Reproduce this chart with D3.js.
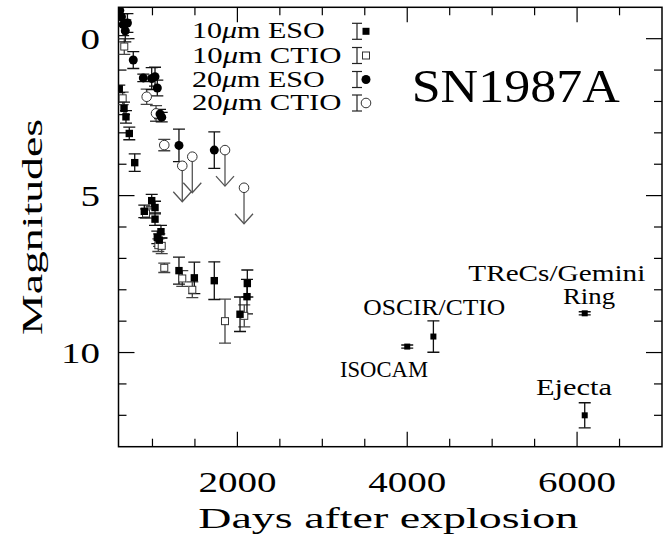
<!DOCTYPE html>
<html>
<head>
<meta charset="utf-8">
<script src="https://cdn.jsdelivr.net/npm/d3@7"></script>
<style>
  body { margin: 0; background: #fff; }
  svg text { font-family: "Liberation Serif", serif; fill: #000; }
</style>
</head>
<body>
<div id="chart"></div>
<script>
// 10 micron ESO (filled squares)
const eso10Days = [609, 665, 688, 727, 791, 904, 991, 1030, 1030, 1057, 1080, 1100, 1312, 1493, 1728, 2031, 2113, 2117];
const eso10Mags = [1.6, 2.22, 2.49, 3.02, 3.95, 5.5, 5.16, 5.38, 5.75, 6.33, 6.42, 6.15, 7.39, 7.62, 7.71, 8.78, 8.22, 7.8];
const eso10Errs = [0.12, 0.2, 0.2, 0.2, 0.28, 0.2, 0.2, 0.2, 0.2, 0.2, 0.2, 0.2, 0.43, 0.5, 0.6, 0.55, 0.55, 0.43];

// 10 micron CTIO (open squares)
const ctio10Days = [649, 668, 924, 1069, 1109, 1139, 1351, 1469, 1854, 2081];
const ctio10Mags = [1.9, 0.25, 5.57, 6.58, 6.6, 7.3, 7.64, 8.0, 9.0, 8.83];
const ctio10Errs = [0.2, 0.25, 0.15, 0.2, 0.25, 0.15, 0.25, 0.25, 0.7, 0.35];

// 20 micron ESO (filled circles)
const eso20Days = [615, 635, 655, 680, 705, 774, 892, 991, 1030, 1057, 1089, 1109, 1312, 1728];
const eso20Mags = [-0.9, -0.7, -0.45, -0.25, -0.5, 0.68, 1.25, 1.27, 1.21, 1.57, 2.4, 2.5, 3.4, 3.55];
const eso20Errs = [0.3, 0.3, 0.35, 0.35, 0.3, 0.27, 0.12, 0.35, 0.3, 0.25, 0.15, 0.15, 0.52, 0.58];

// 20 micron CTIO (open circles), detections and upper limits
const ctio20Days = [932, 1042, 1139];
const ctio20Mags = [1.85, 2.38, 3.39];
const ctio20Errs = [0.24, 0.25, 0.18];
const limitDays = [1351, 1469, 1854, 2078];
const limitMags = [4.05, 3.76, 3.55, 4.75];

// later observations
const lateNames = ["ISOCAM", "OSCIR/CTIO", "Ring", "Ejecta"];
const lateDays = [4000, 4308, 6090, 6090];
const lateMags = [9.81, 9.49, 8.75, 12.0];
const lateErrs = [0.05, 0.5, 0.05, 0.4];

const xTicks = [1000, 1500, 2000, 2500, 3000, 3500, 4000, 4500, 5000, 5500, 6000, 6500];
const xLabels = [2000, 4000, 6000];
const yTicks = [0, 1, 2, 3, 4, 5, 6, 7, 8, 9, 10, 11, 12];
const yLabels = [0, 5, 10];

const width = 671, height = 539;
const mLeft = 118.5, mRight = 662, mTop = 7.3, mBottom = 446.7;

const svg = d3.select("#chart").append("svg")
  .attr("width", width)
  .attr("height", height);

const x = d3.scaleLinear().domain([600, 7000]).range([mLeft, mRight]);
const y = d3.scaleLinear().domain([-1, 13]).range([mTop, mBottom]);

const toPts = (days, mags, errs) => days.map((d, i) => ({ d, m: mags[i], e: errs ? errs[i] : 0 }));

// frame
svg.append("rect")
  .attr("x", mLeft).attr("y", mTop)
  .attr("width", mRight - mLeft).attr("height", mBottom - mTop)
  .attr("fill", "none").attr("stroke", "#000").attr("stroke-width", 1.5);

// ticks, pointing inward on all four sides
const tickG = svg.append("g").attr("stroke", "#000").attr("stroke-width", 1.2);
xTicks.forEach(t => {
  const len = xLabels.includes(t) ? 15 : 8;
  tickG.append("line").attr("x1", x(t)).attr("x2", x(t)).attr("y1", mBottom).attr("y2", mBottom - len);
  tickG.append("line").attr("x1", x(t)).attr("x2", x(t)).attr("y1", mTop).attr("y2", mTop + len);
});
yTicks.forEach(t => {
  const len = yLabels.includes(t) ? 16 : 8;
  tickG.append("line").attr("y1", y(t)).attr("y2", y(t)).attr("x1", mLeft).attr("x2", mLeft + len);
  tickG.append("line").attr("y1", y(t)).attr("y2", y(t)).attr("x1", mRight).attr("x2", mRight - len);
});

// tick labels
svg.selectAll(".xl").data(xLabels).enter().append("text")
  .attr("x", d => x(d)).attr("y", 491.5)
  .attr("text-anchor", "middle")
  .attr("font-size", 30)
  .attr("textLength", 78).attr("lengthAdjust", "spacingAndGlyphs")
  .text(d => d);

svg.selectAll(".yl").data(yLabels).enter().append("text")
  .attr("x", 100).attr("y", d => y(d) + 10.5)
  .attr("text-anchor", "end")
  .attr("font-size", 30)
  .attr("textLength", d => String(d).length * 19.5).attr("lengthAdjust", "spacingAndGlyphs")
  .text(d => d);

// axis titles
svg.append("text")
  .attr("x", 198.3).attr("y", 528)
  .attr("font-size", 30)
  .attr("textLength", 380).attr("lengthAdjust", "spacingAndGlyphs")
  .text("Days after explosion");

svg.append("text")
  .attr("transform", "translate(42,335) rotate(-90)")
  .attr("font-size", 30)
  .attr("textLength", 216).attr("lengthAdjust", "spacingAndGlyphs")
  .text("Magnitudes");

// title
svg.append("text")
  .attr("x", 411.7).attr("y", 101.7)
  .attr("font-size", 46)
  .attr("textLength", 208).attr("lengthAdjust", "spacingAndGlyphs")
  .text("SN1987A");

// error bars
function errBars(g, pts, color) {
  pts.forEach(p => {
    if (!p.e) return;
    const y1 = y(p.m - p.e), y2 = y(p.m + p.e), cx = x(p.d);
    g.append("line").attr("x1", cx).attr("x2", cx).attr("y1", y1).attr("y2", y2);
    g.append("line").attr("x1", cx - 6).attr("x2", cx + 6).attr("y1", y1).attr("y2", y1);
    g.append("line").attr("x1", cx - 6).attr("x2", cx + 6).attr("y1", y2).attr("y2", y2);
  });
  g.attr("stroke", color).attr("stroke-width", 1.3);
}

svg.append("defs").append("clipPath").attr("id", "plot")
  .append("rect").attr("x", mLeft).attr("y", mTop).attr("width", mRight - mLeft).attr("height", mBottom - mTop);

const plot = svg.append("g").attr("clip-path", "url(#plot)");

const eso10 = toPts(eso10Days, eso10Mags, eso10Errs);
const ctio10 = toPts(ctio10Days, ctio10Mags, ctio10Errs);
const eso20 = toPts(eso20Days, eso20Mags, eso20Errs);
const ctio20 = toPts(ctio20Days, ctio20Mags, ctio20Errs);
const limits = toPts(limitDays, limitMags);
const late = toPts(lateDays, lateMags, lateErrs);

errBars(plot.append("g"), ctio10, "#444");
errBars(plot.append("g"), ctio20, "#444");
errBars(plot.append("g"), eso10, "#111");
errBars(plot.append("g"), eso20, "#111");
errBars(plot.append("g"), late, "#111");

// upper limit arrows
const arr = plot.append("g").attr("stroke", "#555").attr("stroke-width", 1.3).attr("fill", "none");
limits.forEach(p => {
  const cx = x(p.d), cy = y(p.m), end = cy + 36;
  arr.append("line").attr("x1", cx).attr("x2", cx).attr("y1", cy).attr("y2", end);
  arr.append("path").attr("d", `M${cx - 9},${end - 10} L${cx},${end} L${cx + 9},${end - 10}`);
});

// markers
plot.selectAll(".c10").data(ctio10).enter().append("rect")
  .attr("x", d => x(d.d) - 3.5).attr("y", d => y(d.m) - 3.5)
  .attr("width", 7).attr("height", 7)
  .attr("fill", "#fff").attr("stroke", "#333").attr("stroke-width", 1);

plot.selectAll(".c20").data(ctio20.concat(limits)).enter().append("circle")
  .attr("cx", d => x(d.d)).attr("cy", d => y(d.m)).attr("r", 4.8)
  .attr("fill", "#fff").attr("stroke", "#333").attr("stroke-width", 1);

plot.selectAll(".e20").data(eso20).enter().append("circle")
  .attr("cx", d => x(d.d)).attr("cy", d => y(d.m)).attr("r", 4.5)
  .attr("fill", "#000");

plot.selectAll(".e10").data(eso10).enter().append("rect")
  .attr("x", d => x(d.d) - 3.7).attr("y", d => y(d.m) - 3.7)
  .attr("width", 7.4).attr("height", 7.4)
  .attr("fill", "#000");

plot.selectAll(".late").data(late).enter().append("rect")
  .attr("x", d => x(d.d) - 3).attr("y", d => y(d.m) - 3)
  .attr("width", 6).attr("height", 6)
  .attr("fill", "#000");

// annotations
const notes = [
  { t: "ISOCAM", x: 340, y: 376.7, w: 88 },
  { t: "OSCIR/CTIO", x: 363.3, y: 315, w: 142 },
  { t: "TReCs/Gemini", x: 468.3, y: 281, w: 177 },
  { t: "Ring", x: 563, y: 304, w: 52 },
  { t: "Ejecta", x: 536, y: 395, w: 76 }
];
svg.selectAll(".note").data(notes).enter().append("text")
  .attr("x", d => d.x).attr("y", d => d.y)
  .attr("font-size", 23)
  .attr("textLength", d => d.w).attr("lengthAdjust", "spacingAndGlyphs")
  .text(d => d.t);

// legend
const legendRows = [
  { wl: "10", site: "ESO", kind: "fsq" },
  { wl: "10", site: "CTIO", kind: "osq" },
  { wl: "20", site: "ESO", kind: "fci" },
  { wl: "20", site: "CTIO", kind: "oci" }
];
const legY = [38.3, 62.5, 86.5, 110];
const lg = svg.append("g");
legendRows.forEach((r, i) => {
  const t = lg.append("text").attr("x", 192).attr("y", legY[i]).attr("font-size", 23)
    .attr("textLength", (r.site.length + 5) * 16.6).attr("lengthAdjust", "spacingAndGlyphs");
  t.append("tspan").text(r.wl);
  t.append("tspan").attr("font-style", "italic").text("\u03bc");
  t.append("tspan").text("m " + r.site);
  const sx = 366, sy = legY[i] - 7;
  const eb = lg.append("g").attr("stroke", "#222").attr("stroke-width", 1.2);
  eb.append("line").attr("x1", sx - 9).attr("x2", sx - 9).attr("y1", sy - 8).attr("y2", sy + 8);
  eb.append("line").attr("x1", sx - 14).attr("x2", sx - 4).attr("y1", sy - 8).attr("y2", sy - 8);
  eb.append("line").attr("x1", sx - 14).attr("x2", sx - 4).attr("y1", sy + 8).attr("y2", sy + 8);
  if (r.kind === "fsq") lg.append("rect").attr("x", sx - 3.5).attr("y", sy - 3.5).attr("width", 7).attr("height", 7).attr("fill", "#000");
  if (r.kind === "osq") lg.append("rect").attr("x", sx - 3.5).attr("y", sy - 3.5).attr("width", 7).attr("height", 7).attr("fill", "#fff").attr("stroke", "#333");
  if (r.kind === "fci") lg.append("circle").attr("cx", sx).attr("cy", sy).attr("r", 4.5).attr("fill", "#000");
  if (r.kind === "oci") lg.append("circle").attr("cx", sx).attr("cy", sy).attr("r", 4.8).attr("fill", "#fff").attr("stroke", "#333");
});
</script>
</body>
</html>
